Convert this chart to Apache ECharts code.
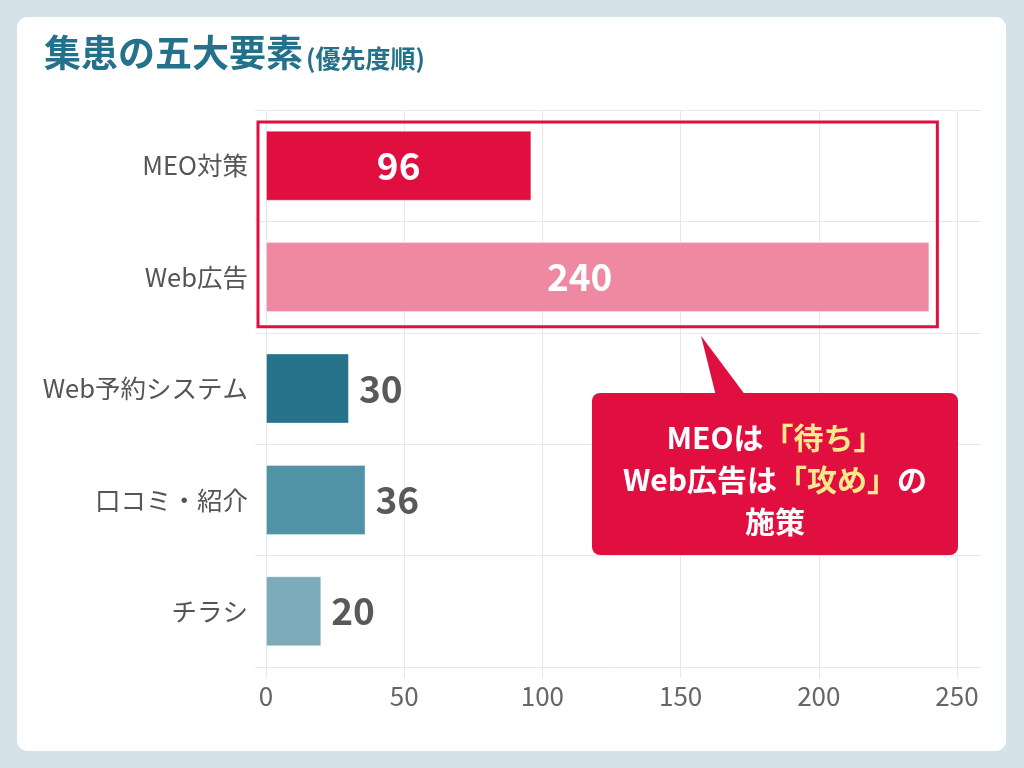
<!DOCTYPE html>
<html>
<head>
<meta charset="utf-8">
<script src="https://cdn.jsdelivr.net/npm/echarts@6/dist/echarts.min.js"></script>
<style>
  html, body { margin: 0; padding: 0; background: #d5e3e8; }
  #card { position: absolute; left: 17px; top: 17px; width: 989px; height: 734px; background: #fff; border-radius: 10px; }
  #main { position: absolute; left: 0; top: 0; width: 1024px; height: 768px; }
</style>
</head>
<body>
<div id="card"></div>
<div id="main"></div>
<script>
// 集患の五大要素 data
var categories = ['MEO対策', 'Web広告', 'Web予約システム', '口コミ・紹介', 'チラシ'];
var values = [96, 240, 30, 36, 20];
var barColors = ['#e00f3f', '#ef89a1', '#26728b', '#5092a6', '#7eabba'];
var labelInside = [true, true, false, false, false];
var xMax = 250;
var xStep = 50;

var gridColor = '#e8e8e8';
var font = '"Noto Sans CJK JP", "Noto Sans", sans-serif';

var chart = echarts.init(document.getElementById('main'));

var barData = values.map(function (v, i) {
    var item = {
        value: v,
        itemStyle: { color: barColors[i] },
        label: labelInside[i]
            ? { position: 'inside', color: '#fff' }
            : { position: 'right', distance: 10, color: '#595959' }
    };
    // 240 sits a little left of the bar centre in the original
    if (labelInside[i] && v > 200) item.label.offset = [-18, 0];
    return item;
});

var option = {
    textStyle: { fontFamily: font },
    title: {
        left: 39,
        top: 29,
        text: '{a|集患の五大要素}{b|(優先度順)}',
        textStyle: {
            rich: {
                a: { fontSize: 37, fontWeight: 'bold', color: '#23718a', fontFamily: font },
                b: { fontSize: 25, fontWeight: 'bold', color: '#23718a', fontFamily: font,
                     verticalAlign: 'bottom', padding: [0, 0, 0, 3] }
            }
        }
    },
    grid: { left: 266, right: 67, top: 110, bottom: 101 },
    xAxis: {
        type: 'value',
        min: 0,
        max: xMax,
        interval: xStep,
        axisLine: { show: false },
        axisTick: { show: true, length: 11, lineStyle: { color: gridColor } },
        splitLine: { show: true, lineStyle: { color: gridColor } },
        axisLabel: { fontSize: 26, color: '#666', margin: 16, fontFamily: font }
    },
    yAxis: [{
        type: 'category',
        data: categories,
        inverse: true,
        axisLine: { show: false },
        axisTick: { show: true, length: 11, lineStyle: { color: gridColor } },
        splitLine: { show: true, lineStyle: { color: gridColor } },
        axisLabel: { fontSize: 25.5, color: '#555', margin: 18, fontFamily: font }
    }, {
        // only used to stretch the row lines past the right edge
        type: 'category',
        data: categories,
        inverse: true,
        position: 'right',
        axisLine: { show: false },
        axisTick: { show: true, length: 24, lineStyle: { color: gridColor } },
        axisLabel: { show: false },
        splitLine: { show: false }
    }],
    series: [{
        type: 'bar',
        data: barData,
        barWidth: 70,
        itemStyle: { borderColor: 'rgba(255,255,255,0.35)', borderWidth: 1 },
        label: {
            show: true,
            fontSize: 37,
            fontWeight: 'bold',
            fontFamily: font
        },
        silent: true
    }]
};

chart.setOption(option);

// highlight box round the first two rows
var x0 = chart.convertToPixel({ xAxisIndex: 0 }, 0);
var xEnd = chart.convertToPixel({ xAxisIndex: 0 }, values[1]);
var c0 = chart.convertToPixel({ yAxisIndex: 0 }, categories[0]);
var c1 = chart.convertToPixel({ yAxisIndex: 0 }, categories[1]);
var band = c1 - c0;
var boxL = x0 - 8, boxR = xEnd + 8;
var boxT = c0 - band / 2 + 12, boxB = c1 + band / 2 - 6;

chart.setOption({
    graphic: [{
        type: 'rect',
        shape: { x: boxL, y: boxT, width: boxR - boxL, height: boxB - boxT },
        style: { fill: 'none', stroke: '#e00f3f', lineWidth: 3 },
        z: 10
    }, {
        type: 'polygon',
        shape: { points: [[701, boxB + 9], [716, 396], [746, 396]] },
        style: { fill: '#e00f3f' },
        z: 10
    }, {
        type: 'rect',
        shape: { x: 592, y: 393, width: 366, height: 162, r: 8 },
        style: { fill: '#e00f3f' },
        z: 10
    }, {
        type: 'text',
        x: 775,
        y: 480,
        z: 11,
        style: {
            text: 'MEOは{y|「待ち」}\nWeb広告は{y|「攻め」}の\n施策',
            align: 'center',
            verticalAlign: 'middle',
            fill: '#fff',
            fontSize: 30,
            fontWeight: 'bold',
            fontFamily: font,
            lineHeight: 42,
            rich: {
                y: { fill: '#fde98c', fontSize: 30, fontWeight: 'bold', fontFamily: font, lineHeight: 42 }
            }
        }
    }]
});
</script>
</body>
</html>
